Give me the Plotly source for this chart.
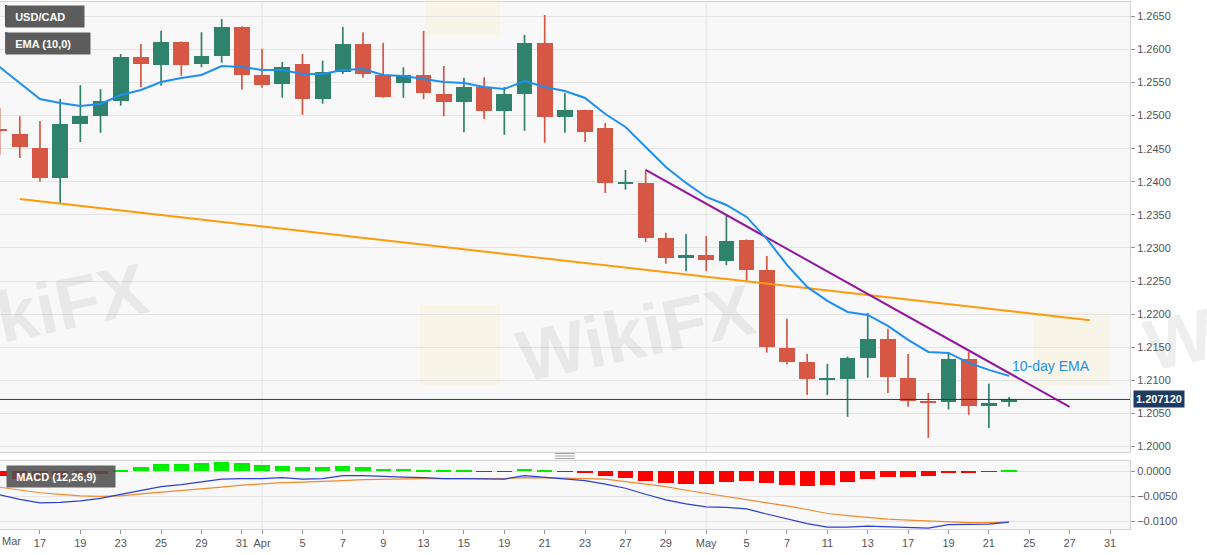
import plotly.graph_objects as go
import pandas as pd

# ---------------- data ----------------
all_days = [d.strftime("%Y-%m-%d") for d in pd.bdate_range("2021-03-15", "2021-05-31")]
n_candles = 51
candle_dates = all_days[:n_candles]

opens = [1.2480, 1.2472, 1.2451, 1.2406, 1.2487, 1.2499, 1.2522, 1.2589, 1.2576, 1.2611,
         1.2578, 1.2590, 1.2634, 1.2561, 1.2548, 1.2578, 1.2525, 1.2566, 1.2608, 1.2561,
         1.2549, 1.2561, 1.2533, 1.2521, 1.2543, 1.2507, 1.2533, 1.2610, 1.2498, 1.2509,
         1.2481, 1.2398, 1.2398, 1.2315, 1.2287, 1.2290, 1.2281, 1.2312, 1.2267, 1.2149,
         1.2128, 1.2102, 1.2102, 1.2134, 1.2163, 1.2104, 1.2069, 1.2068, 1.2133, 1.2062,
         1.2068]
highs = [1.2512, 1.2499, 1.2492, 1.2525, 1.2546, 1.2540, 1.2593, 1.2608, 1.2628, 1.2612,
         1.2626, 1.2646, 1.2635, 1.2601, 1.2581, 1.2593, 1.2583, 1.2634, 1.2626, 1.2610,
         1.2573, 1.2628, 1.2575, 1.2557, 1.2558, 1.2543, 1.2622, 1.2652, 1.2534, 1.2509,
         1.2489, 1.2418, 1.2418, 1.2323, 1.2321, 1.2318, 1.2350, 1.2313, 1.2288, 1.2193,
         1.2140, 1.2125, 1.2136, 1.2202, 1.2178, 1.2140, 1.2081, 1.2143, 1.2143, 1.2095,
         1.2075]
lows = [1.2441, 1.2436, 1.2400, 1.2368, 1.2460, 1.2474, 1.2515, 1.2543, 1.2545, 1.2560,
        1.2573, 1.2580, 1.2539, 1.2542, 1.2527, 1.2501, 1.2518, 1.2563, 1.2557, 1.2527,
        1.2527, 1.2525, 1.2499, 1.2475, 1.2495, 1.2471, 1.2477, 1.2459, 1.2474, 1.2460,
        1.2383, 1.2388, 1.2309, 1.2276, 1.2265, 1.2265, 1.2274, 1.2250, 1.2142, 1.2124,
        1.2078, 1.2078, 1.2045, 1.2104, 1.2081, 1.2060, 1.2013, 1.2056, 1.2048, 1.2028,
        1.2060]
closes = [1.2476, 1.2453, 1.2406, 1.2487, 1.2499, 1.2522, 1.2589, 1.2578, 1.2611, 1.2576,
          1.2590, 1.2634, 1.2561, 1.2546, 1.2573, 1.2525, 1.2566, 1.2608, 1.2563, 1.2528,
          1.2561, 1.2534, 1.2521, 1.2543, 1.2507, 1.2533, 1.2610, 1.2498, 1.2509, 1.2475,
          1.2398, 1.2399, 1.2315, 1.2285, 1.2288, 1.2282, 1.2311, 1.2267, 1.2151, 1.2128,
          1.2102, 1.2104, 1.2134, 1.2163, 1.2105, 1.2069, 1.2066, 1.2133, 1.2062, 1.2066,
          1.20712]
ema10 = [1.25734, 1.25493, 1.25251, 1.25191, 1.25145, 1.25175, 1.25311, 1.25387, 1.25508, 1.25568,
         1.25613, 1.25749, 1.25734, 1.25689, 1.25689, 1.25629, 1.25629, 1.25689, 1.25704, 1.25613,
         1.25598, 1.25553, 1.25508, 1.25493, 1.25432, 1.25402, 1.25523, 1.25432, 1.25372, 1.25266,
         1.25024, 1.24828, 1.24526, 1.24224, 1.23983, 1.23771, 1.23650, 1.23469, 1.23137, 1.22744,
         1.22412, 1.22200, 1.22034, 1.21989, 1.21823, 1.21611, 1.21430, 1.21415, 1.21264, 1.21158,
         1.21068]
macd_line = [-0.0047, -0.0056, -0.0063, -0.0062, -0.0059, -0.0054, -0.0046, -0.0038, -0.0031, -0.0027,
             -0.0022, -0.0016, -0.0015, -0.0015, -0.0013, -0.0016, -0.0015, -0.0009, -0.0009, -0.0011,
             -0.0012, -0.0013, -0.0015, -0.0015, -0.0016, -0.0016, -0.0009, -0.0012, -0.0016, -0.0019,
             -0.0026, -0.0034, -0.0046, -0.0057, -0.0065, -0.0071, -0.0072, -0.0075, -0.0085, -0.0095,
             -0.0104, -0.0111, -0.0111, -0.0109, -0.0110, -0.0112, -0.0113, -0.0106, -0.0106, -0.0105,
             -0.0101]
signal_line = [-0.0032, -0.0038, -0.0043, -0.0046, -0.0049, -0.0050, -0.0049, -0.0045, -0.0042, -0.0038,
               -0.0035, -0.0032, -0.0028, -0.0025, -0.0023, -0.0022, -0.0021, -0.0019, -0.0017, -0.0016,
               -0.0015, -0.0015, -0.0015, -0.0015, -0.0016, -0.0015, -0.0013, -0.0013, -0.0014, -0.0015,
               -0.0016, -0.0021, -0.0026, -0.0031, -0.0038, -0.0044, -0.0050, -0.0056, -0.0062, -0.0069,
               -0.0076, -0.0084, -0.0088, -0.0092, -0.0095, -0.0097, -0.0099, -0.0101, -0.0102, -0.0102,
               -0.0101]
macd_hist = [-0.0010, -0.0015, -0.0015, -0.0012, -0.0008, -0.0005, 0.0001, 0.0007, 0.0014, 0.0014,
             0.0015, 0.0018, 0.0015, 0.0011, 0.0010, 0.0007, 0.0007, 0.0009, 0.0007, 0.0004,
             0.0004, 0.0002, 0.00005, 0.00005, -0.0001, -0.0001, 0.0004, 0.0001, -0.0001, -0.00045,
             -0.0009, -0.0013, -0.0019, -0.0024, -0.0025, -0.0025, -0.0021, -0.0020, -0.0024, -0.0027,
             -0.0029, -0.0027, -0.0022, -0.0015, -0.00125, -0.0012, -0.0010, -0.0003, -0.00025, -0.0001,
             0.0001]

# trend lines: (date, price) anchors
orange_line = [("2021-03-16", 1.2374), ("2021-05-28", 1.2191)]
purple_line = [("2021-04-28", 1.2418), ("2021-05-27", 1.2060)]

tick_dates = ["2021-03-17", "2021-03-19", "2021-03-23", "2021-03-25", "2021-03-29",
              "2021-03-31", "2021-04-01", "2021-04-05", "2021-04-07", "2021-04-09", "2021-04-13",
              "2021-04-15", "2021-04-19", "2021-04-21", "2021-04-23", "2021-04-27", "2021-04-29",
              "2021-05-03", "2021-05-05", "2021-05-07", "2021-05-11", "2021-05-13", "2021-05-17",
              "2021-05-19", "2021-05-21", "2021-05-25", "2021-05-27", "2021-05-31"]
tick_labels = ["17", "19", "23", "25", "29", "31", "Apr", "5", "7", "9", "13", "15", "19", "21",
               "23", "27", "29", "May", "5", "7", "11", "13", "17", "19", "21", "25", "27", "31"]
first_label = "Mar"
price_ticks = [1.2000, 1.2050, 1.2100, 1.2150, 1.2200, 1.2250, 1.2300, 1.2350,
               1.2400, 1.2450, 1.2500, 1.2550, 1.2600, 1.2650]
macd_ticks = [0.0, -0.005, -0.010]

# ---------------- styling / helpers ----------------
GREEN = "#2f826b"
RED = "#d55744"
FONT = "Liberation Sans, Arial, sans-serif"
pos = {d: i for i, d in enumerate(all_days)}
xs = [pos[d] for d in candle_dates]

PLOT_L, PLOT_R, PLOT_T, PLOT_B = 0, 1130, 2, 529


def fx(px):
    return (px - PLOT_L) / (PLOT_R - PLOT_L)


def fy(py):
    return (PLOT_B - py) / (PLOT_B - PLOT_T)


fig = go.Figure()

# candle bodies
min_body = 0.00025
bases, heights, colors = [], [], []
for o, c in zip(opens, closes):
    h = abs(c - o)
    if h < min_body:
        bases.append((o + c) / 2 - min_body / 2)
        heights.append(min_body)
    else:
        bases.append(min(o, c))
        heights.append(h)
    colors.append(GREEN if c >= o else RED)

fig.add_trace(go.Bar(x=xs, y=heights, base=bases, width=0.78,
                     marker=dict(color=colors, line=dict(width=0)),
                     xaxis="x", yaxis="y", hoverinfo="skip", showlegend=False))

# wicks
for col, cond in ((GREEN, True), (RED, False)):
    wx, wy = [], []
    for x, o, h, l, c in zip(xs, opens, highs, lows, closes):
        if (c >= o) == cond:
            wx += [x, x, None]
            wy += [l, h, None]
    fig.add_trace(go.Scatter(x=wx, y=wy, mode="lines", line=dict(color=col, width=1.7),
                             xaxis="x", yaxis="y", hoverinfo="skip", showlegend=False))

# trend lines
fig.add_trace(go.Scatter(x=[pos[d] for d, _ in orange_line], y=[p for _, p in orange_line],
                         mode="lines", line=dict(color="#ff9a0d", width=2),
                         xaxis="x", yaxis="y", hoverinfo="skip", showlegend=False))
fig.add_trace(go.Scatter(x=[pos[d] for d, _ in purple_line], y=[p for _, p in purple_line],
                         mode="lines", line=dict(color="#93179b", width=2),
                         xaxis="x", yaxis="y", hoverinfo="skip", showlegend=False))
# EMA
fig.add_trace(go.Scatter(x=xs, y=ema10, mode="lines", line=dict(color="#1e8ff0", width=2),
                         xaxis="x", yaxis="y", hoverinfo="skip", showlegend=False))

# MACD
fig.add_trace(go.Bar(x=xs, y=macd_hist, width=0.76,
                     marker=dict(color=["#00ee00" if v >= 0 else "#ff0000" for v in macd_hist],
                                 line=dict(width=0)),
                     xaxis="x2", yaxis="y2", hoverinfo="skip", showlegend=False))
fig.add_trace(go.Scatter(x=xs, y=signal_line, mode="lines", line=dict(color="#f28a2e", width=1.2),
                         xaxis="x2", yaxis="y2", hoverinfo="skip", showlegend=False))
fig.add_trace(go.Scatter(x=xs, y=macd_line, mode="lines", line=dict(color="#2c3fd0", width=1.2),
                         xaxis="x2", yaxis="y2", hoverinfo="skip", showlegend=False))

xrange = [0.02, len(all_days) - 0.01]
grid = "#e3e3e3"
border = "#d3d3d3"
tickfont = dict(family=FONT, size=11, color="#555555")

price_dom = [fy(452), 1.0]
macd_dom = [0.0, fy(461)]

fig.update_layout(
    width=1207, height=555,
    margin=dict(l=PLOT_L, r=1207 - PLOT_R, t=PLOT_T, b=555 - PLOT_B),
    paper_bgcolor="white", plot_bgcolor="#f8f8f9",
    font=dict(family=FONT), showlegend=False, bargap=0,
    xaxis=dict(domain=[0, 1], anchor="y", range=xrange, showgrid=False, zeroline=False,
               showticklabels=False, ticks="", showline=True, mirror=True, linecolor=border),
    xaxis2=dict(domain=[0, 1], anchor="y2", range=xrange, showgrid=False, zeroline=False,
                tickmode="array", tickvals=[pos[d] for d in tick_dates], ticktext=tick_labels,
                ticks="outside", ticklen=4, tickcolor="#999999", tickfont=tickfont,
                showline=True, mirror=True, linecolor=border),
    yaxis=dict(domain=price_dom, anchor="x", side="right", range=[1.19918, 1.26716],
               tickmode="array", tickvals=price_ticks, tickformat=".4f",
               ticks="outside", ticklen=4, tickcolor="#999999", tickfont=tickfont,
               showgrid=True, gridcolor=grid, zeroline=False,
               showline=True, mirror=True, linecolor=border),
    yaxis2=dict(domain=macd_dom, anchor="x2", side="right", range=[-0.01146, 0.00198],
                tickmode="array", tickvals=macd_ticks, tickformat=".4f",
                ticks="outside", ticklen=4, tickcolor="#999999", tickfont=tickfont,
                showgrid=True, gridcolor=grid, zeroline=False,
                showline=True, mirror=True, linecolor=border),
)

shapes = []
# vertical month separators
for i in range(1, len(all_days)):
    if all_days[i][5:7] != all_days[i - 1][5:7]:
        for xr, yr in (("x", "y domain"), ("x2", "y2 domain")):
            shapes.append(dict(type="line", xref=xr, yref=yr, x0=i, x1=i, y0=0, y1=1,
                               line=dict(color=grid, width=1), layer="below"))
# last-price line
shapes.append(dict(type="line", xref="paper", yref="y", x0=0, x1=1,
                   y0=closes[-1], y1=closes[-1], line=dict(color="#1f3a60", width=1)))
# watermark logo squares
for (x0, y0, x1, y1) in ((420, 305, 500, 385), (1033, 312, 1110, 385), (425, -45, 500, 35)):
    shapes.append(dict(type="rect", xref="paper", yref="paper", x0=fx(x0), x1=fx(x1),
                       y0=fy(y1), y1=fy(y0), line=dict(width=0),
                       fillcolor="rgba(255,214,120,0.13)", layer="below"))
# panel resize handle
for yy in (453.5, 456, 458.5):
    shapes.append(dict(type="line", xref="paper", yref="paper", x0=fx(555), x1=fx(575),
                       y0=fy(yy), y1=fy(yy), line=dict(color="#888888", width=0.8)))
# legend colour strips
shapes.append(dict(type="rect", xref="paper", yref="paper", x0=fx(5), x1=fx(7),
                   y0=fy(26), y1=fy(5), line=dict(width=0), fillcolor="#3a3a3a"))
shapes.append(dict(type="rect", xref="paper", yref="paper", x0=fx(5), x1=fx(7.5),
                   y0=fy(53), y1=fy(32), line=dict(width=0), fillcolor="#1e88e5"))
fig.update_layout(shapes=shapes)

ann = []
# watermarks
wm_font = dict(family=FONT, size=72, color="rgba(125,125,125,0.13)")
for cx, cy in ((28, 312), (635, 333), (1262, 322)):
    ann.append(dict(text="<b>WikiFX</b>", xref="paper", yref="paper", x=fx(cx), y=fy(cy),
                    xanchor="center", yanchor="middle", showarrow=False, textangle=-12,
                    font=wm_font))
# legend boxes
nb = "\u00a0\u00a0\u00a0"
ann.append(dict(text="<b>" + nb + "USD/CAD</b>", xref="paper", yref="paper", x=fx(5), y=fy(5),
                xanchor="left", yanchor="top", showarrow=False, align="left",
                width=78, height=21, borderpad=0, bgcolor="#5c5c5c",
                font=dict(family=FONT, size=11, color="white")))
ann.append(dict(text="<b>" + nb + "EMA (10,0)</b>", xref="paper", yref="paper", x=fx(5), y=fy(32),
                xanchor="left", yanchor="top", showarrow=False, align="left",
                width=84, height=21, borderpad=0, bgcolor="#5c5c5c",
                font=dict(family=FONT, size=11, color="white")))
ann.append(dict(text="<b>" + nb + "MACD (12,26,9)</b>", xref="paper", yref="paper", x=fx(6), y=fy(465),
                xanchor="left", yanchor="top", showarrow=False, align="left",
                width=108, height=21, borderpad=0, bgcolor="rgba(78,78,78,0.88)",
                font=dict(family=FONT, size=11, color="white")))
# first x label
ann.append(dict(text=first_label, xref="paper", yref="paper", x=0, y=fy(533),
                xanchor="left", yanchor="top", showarrow=False, font=tickfont))
# EMA label
ann.append(dict(text="10-day EMA", xref="x", yref="y", x=xs[-1] + 0.05, y=1.2122,
                xanchor="left", yanchor="middle", showarrow=False,
                font=dict(family=FONT, size=14, color="#2291e8")))
# last price tag
ann.append(dict(text="<b>%.6f</b>" % closes[-1], xref="paper", yref="y", x=1, y=closes[-1],
                xanchor="left", yanchor="middle", xshift=3, showarrow=False,
                bgcolor="#1f3a60", borderpad=2,
                font=dict(family=FONT, size=11, color="white")))
fig.update_layout(annotations=ann)

fig.write_html("out.html", config={"displayModeBar": False},
               post_script="document.body.style.margin='0px';")
